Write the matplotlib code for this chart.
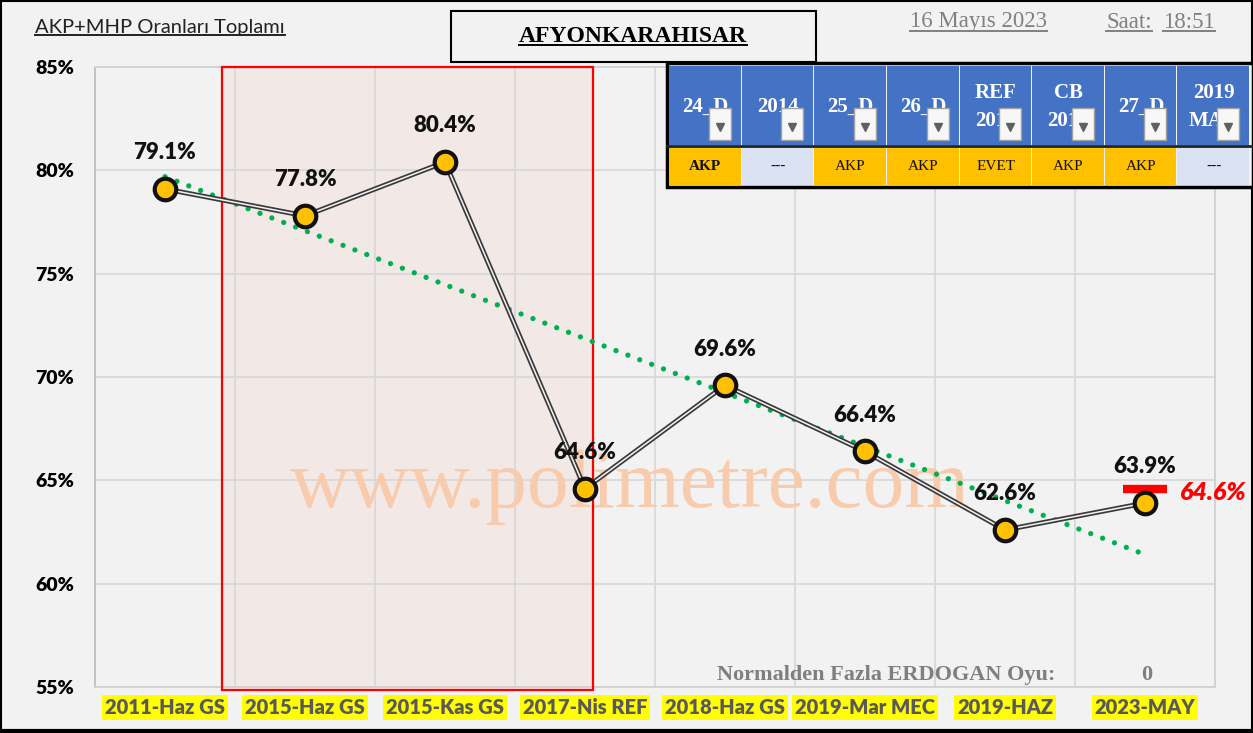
import matplotlib.pyplot as plt
import numpy as np
from matplotlib.patches import Rectangle
from matplotlib.lines import Line2D

# --- data ---
categories = ['2011-Haz GS', '2015-Haz GS', '2015-Kas GS', '2017-Nis REF',
              '2018-Haz GS', '2019-Mar MEC', '2019-HAZ', '2023-MAY']
values = [79.1, 77.8, 80.4, 64.6, 69.6, 66.4, 62.6, 63.9]
target_value = 64.6            # red bar on the last category
highlight_span = (0.41, 3.06)  # red box over the 2015-2017 period

table_headers = ['24_D', '2014', '25_D', '26_D', 'REF\n2017', 'CB\n2018', '27_D', '2019\nMAR']
table_values = ['AKP', '---', 'AKP', 'AKP', 'EVET', 'AKP', 'AKP', '---']

W, H = 1253, 733
BG = '#f2f2f2'
SANS = 'Lato'
SERIF = 'Liberation Serif'

fig = plt.figure(figsize=(W / 100, H / 100), dpi=100, facecolor=BG)
ax = fig.add_axes([95 / W, 1 - 687 / H, 1120 / W, 620 / H], facecolor=BG)

x = np.arange(len(categories))
ax.set_xlim(-0.5, len(categories) - 0.5)
ax.set_ylim(55, 85)

# axes, ticks, grid
ax.set_yticks(np.arange(55, 86, 5))
ax.set_yticklabels([f'{v}%' for v in range(55, 86, 5)], fontsize=14,
                   fontweight='heavy', family=SANS)
ax.set_xticks(x)
ax.set_xticklabels(categories, fontsize=14.5, fontweight='heavy', family=SANS,
                   color='#595959')
ax.set_xticks(x[:-1] + 0.5, minor=True)
ax.tick_params(axis='both', which='both', length=0)
ax.tick_params(axis='y', pad=15)
ax.tick_params(axis='x', pad=8)
for lab in ax.get_xticklabels():
    lab.set_bbox(dict(facecolor='#ffff00', edgecolor='none', pad=2.2))
ax.yaxis.grid(True, color='#d9d9d9', lw=1.3)
ax.xaxis.grid(True, which='minor', color='#d9d9d9', lw=1.3)
ax.set_axisbelow(True)
for s in ax.spines.values():
    s.set_color('#d0d0d0')
    s.set_linewidth(1.3)
ax.spines['left'].set_color('#bfbfbf')

# highlighted period
ax.add_patch(Rectangle((highlight_span[0], 54.85), highlight_span[1] - highlight_span[0], 30.15,
                       facecolor='#f2e8e6', edgecolor='none', zorder=0.5, clip_on=False))
ax.add_patch(Rectangle((highlight_span[0], 54.85), highlight_span[1] - highlight_span[0], 30.15,
                       facecolor='none', edgecolor='#ff0000', lw=1.6, zorder=3, clip_on=False))

# watermark
ax.text(0.478, 0.322, 'www.polimetre.com', transform=ax.transAxes, family=SERIF,
        fontsize=60, color='#f8cbad', ha='center', va='center', zorder=1)

# trend line (least squares)
coef = np.polyfit(x, values, 1)
ax.plot(x, np.polyval(coef, x), color='#00b050', lw=3.8,
        linestyle=(0, (0.01, 2.4)), dash_capstyle='round', zorder=4)

# double line
ax.plot(x, values, color='#3a3a3a', lw=3.6, zorder=5, solid_joinstyle='miter')
ax.plot(x, values, color='#f4f4f4', lw=1.1, zorder=5.1)

# target bar on the last point
ax.vlines(x[-1], values[-1], target_value, color='#a6a6a6', lw=1, zorder=5.2)
ax.plot(x[-1], target_value, marker='_', markersize=32, mew=6, color='#ff0000', zorder=5.3)
ax.annotate(f'{target_value:.1f}%', (x[-1], target_value), xytext=(25, -3),
            textcoords='offset points', ha='left', va='center', color='#ff0000',
            fontsize=18, fontweight='heavy', style='italic', family=SANS)

ax.plot(x, values, 'o', markersize=15.5, markerfacecolor='#ffc000',
        markeredgecolor='#111111', mew=3, zorder=6)
for xi, v in zip(x, values):
    ax.annotate(f'{v:.1f}%', (xi, v), xytext=(0, 26), textcoords='offset points',
                ha='center', va='center', fontsize=16, fontweight='heavy',
                family=SANS, color='#111111', zorder=7)

# --- decorations in pixel coordinates ---
ov = fig.add_axes([0, 0, 1, 1], facecolor='none', zorder=10)
ov.set_xlim(0, W)
ov.set_ylim(H, 0)
ov.axis('off')

# outer frame
ov.add_patch(Rectangle((1, 1), W - 2, H - 3, facecolor='none', edgecolor='black', lw=1.5))
ov.plot([0, W], [731, 731], color='black', lw=3)

# title box
ov.add_patch(Rectangle((451, 11), 365, 51, facecolor='none', edgecolor='black', lw=1.5))

underlined = []
underlined.append(ov.text(633, 36, 'AFYONKARAHISAR', family=SERIF, fontsize=17,
                          fontweight='bold', ha='center', va='center'))
underlined.append(ov.text(35, 28, 'AKP+MHP Oranları Toplamı', family=SANS, fontsize=14.5,
                          ha='left', va='center', color='#222222'))
underlined.append(ov.text(910, 22, '16 Mayıs 2023', family=SERIF, fontsize=16.5,
                          ha='left', va='center', color='#808080'))
underlined.append(ov.text(1106, 22, 'Saat:', family=SERIF, fontsize=16.5,
                          ha='left', va='center', color='#808080'))
underlined.append(ov.text(1163, 22, '18:51', family=SERIF, fontsize=16.5,
                          ha='left', va='center', color='#808080'))

ov.text(1055, 675, 'Normalden Fazla ERDOGAN Oyu:', family=SERIF, fontsize=16,
        fontweight='bold', ha='right', va='center', color='#7f7f7f')
ov.text(1147, 675, '0', family=SERIF, fontsize=16, fontweight='bold',
        ha='center', va='center', color='#7f7f7f')

# table
tx0, ty0, tx1, ty1 = 667, 63, 1253, 187
ov.add_patch(Rectangle((tx0, ty0), tx1 - tx0, ty1 - ty0, facecolor='#f2f2f2',
                       edgecolor='black', lw=2.5, zorder=1))
cw = (1250 - 669) / len(table_headers)
for i, (hd, val) in enumerate(zip(table_headers, table_values)):
    cx = 669 + i * cw
    ov.add_patch(Rectangle((cx, 66), cw - 1, 79, facecolor='#4472c4',
                           edgecolor='none', zorder=2))
    fc = '#d9e1f2' if val == '---' else '#ffc000'
    ov.add_patch(Rectangle((cx, 147), cw - 1, 38, facecolor=fc,
                           edgecolor='none', zorder=2))
    ov.text(cx + cw / 2, 107, hd, family=SERIF, fontsize=15, fontweight='bold',
            color='white', ha='center', va='center', linespacing=1.6, zorder=3)
    ov.text(cx + cw / 2, 166, val, family=SERIF, fontsize=11,
            fontweight='bold' if i == 0 else 'normal', color='#111111',
            ha='center', va='center', zorder=3)
    # dropdown button
    bx = cx + cw - 33
    ov.add_patch(Rectangle((bx, 108), 22, 32, facecolor='#f7f7f7',
                           edgecolor='#a0a0a0', lw=1, zorder=4))
    ov.plot(bx + 11, 127, marker='v', markersize=6, color='#606060', zorder=5)
ov.plot([tx0, tx1], [146, 146], color='#222222', lw=2, zorder=3)

# underlines
fig.canvas.draw()
r = fig.canvas.get_renderer()
for t in underlined:
    bb = t.get_window_extent(r)
    yy = bb.y0 + 2
    fig.add_artist(Line2D([bb.x0 / W, bb.x1 / W], [yy / H, yy / H],
                          transform=fig.transFigure, color=t.get_color(), lw=1.4))

fig.savefig('out.png', dpi=100, facecolor=BG)
